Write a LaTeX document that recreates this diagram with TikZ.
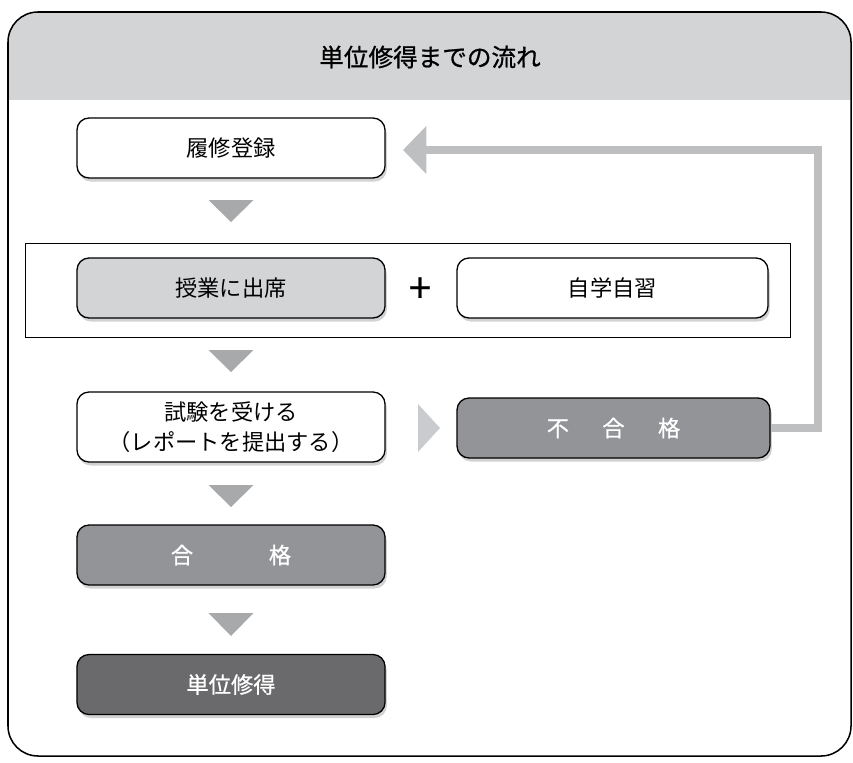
\documentclass[tikz,border=0pt]{standalone}
\usepackage{fontspec}
\newfontfamily\jp{Noto Sans CJK JP}
\newfontfamily\jpm[FakeBold=0.8]{Noto Sans CJK JP}
\usetikzlibrary{arrows.meta,shadows}
\definecolor{headgray}{HTML}{D3D4D6}
\definecolor{arrgray}{HTML}{BEBFC1}
\definecolor{trigray}{HTML}{A8A9AB}
\definecolor{midgray}{HTML}{939497}
\definecolor{darkgray}{HTML}{6A6A6C}
\tikzset{
  box/.style={draw=black, line width=1.1pt, rounded corners=0.36cm, fill=white,
    minimum width=9.24cm, minimum height=1.8cm, align=center,
    font=\jp\fontsize{19}{26}\selectfont,
    drop shadow={shadow xshift=1.5pt, shadow yshift=-3pt, fill=black!35, opacity=0.5}},
  darkbox/.style={box, text=white, font=\jpm\fontsize{19}{26}\selectfont}
}
\begin{document}
\begin{tikzpicture}[x=0.03cm, y=-0.03cm]
			\useasboundingbox (0,0) rectangle (853,762);
			
			% frame and header
			\begin{scope}
				\clip[rounded corners=0.9cm] (8,12) rectangle (851,756);
				\fill[headgray] (8,12) rectangle (851,100);
			\end{scope}
			\draw[line width=1.3pt, rounded corners=0.9cm] (8,12) rectangle (851,756);
			\node (title) at (430,57) {\jpm\fontsize{21}{24}\selectfont 単位修得までの流れ};
			
			% boxes
			\node[box] (rishu) at (231,148) {履修登録};
			\draw[line width=0.8pt] (25,243) rectangle (790,337);
			\node[box, fill=headgray] (jugyo) at (231,288) {授業に出席};
			\node (plus) at (420,290) {\jpm\fontsize{34}{36}\selectfont +};
			\node[box, minimum width=9.33cm] (jigaku) at (612.5,288) {自学自習};
			\node[box, minimum height=2.1cm] (shiken) at (231,427) {試験を受ける\\（レポートを提出する）};
			\node[darkbox, fill=midgray, minimum width=9.39cm] (fugoukaku) at (613.5,428) {不\hspace{1.5em}合\hspace{1.5em}格};
			\node[darkbox, fill=midgray] (goukaku) at (231,555) {合\hspace{3.4em}格};
			\node[darkbox, fill=darkgray] (tani) at (231,684.5) {単位修得};
			
			% markers
			\fill[trigray] (208.5,200) -- (253.5,200) -- (231,222) -- cycle;
			\fill[trigray] (208.5,350) -- (253.5,350) -- (231,372) -- cycle;
			\fill[trigray] (208.5,485) -- (253.5,485) -- (231,507) -- cycle;
			\fill[trigray] (208.5,613) -- (253.5,613) -- (231,636) -- cycle;
			\fill[headgray!80!trigray] (418,404) -- (418,452) -- (440,428) -- cycle;
			
			% back to registration
			\coordinate (turn) at (818,150);
			\coordinate (tip) at (403,150);
			\draw[arrgray, line width=6.8pt, -{Triangle[length=20pt, width=40pt]}]
				(fugoukaku.east) -- (turn |- fugoukaku.east) -- (turn) -- (tip);
\end{tikzpicture}
\end{document}
